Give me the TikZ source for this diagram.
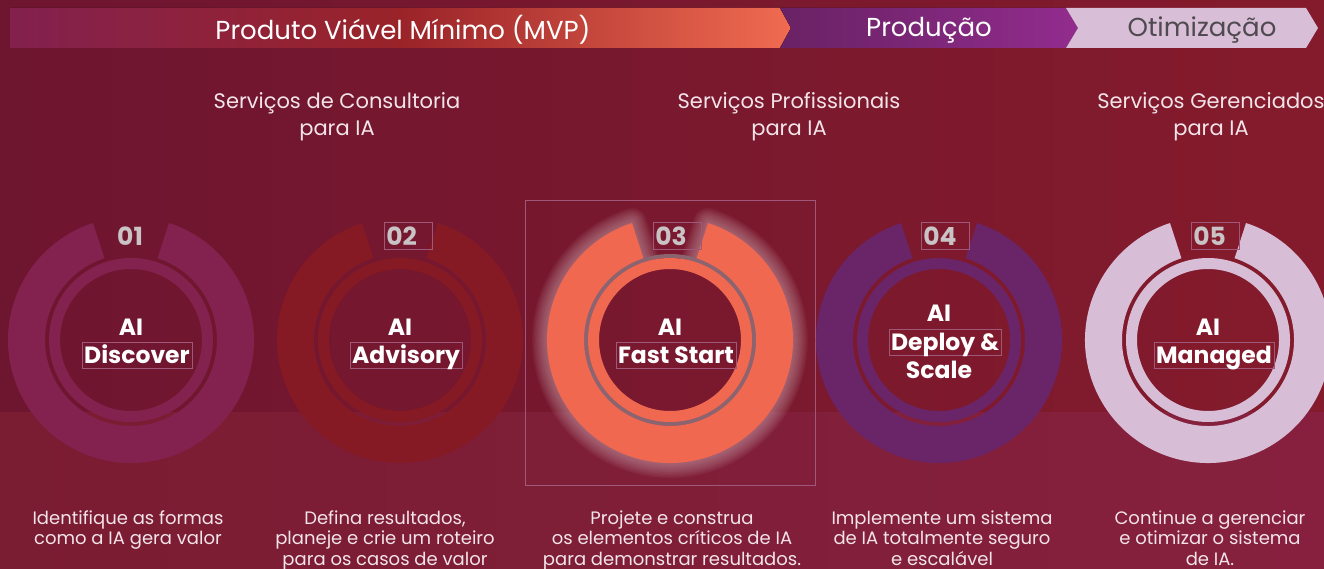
\documentclass[tikz,border=0pt]{standalone}
\usepackage{fontspec}
\setmainfont{Poppins}
\usetikzlibrary{positioning}

\definecolor{bgleft}{HTML}{6E1530}
\definecolor{bgright}{HTML}{841B2C}
\definecolor{lowleft}{HTML}{7A1C32}
\definecolor{lowright}{HTML}{86203E}
\definecolor{mvpleft}{HTML}{82214E}
\definecolor{mvpmid}{HTML}{9A2329}
\definecolor{mvpright}{HTML}{F06B50}
\definecolor{prodleft}{HTML}{692264}
\definecolor{prodright}{HTML}{922C8E}
\definecolor{optfill}{HTML}{D8BED6}
\definecolor{opttext}{HTML}{4F4A50}
\definecolor{ringone}{HTML}{84224F}
\definecolor{ringtwo}{HTML}{851A24}
\definecolor{ringthree}{HTML}{F06850}
\definecolor{ringfour}{HTML}{6A2468}
\definecolor{ringfive}{HTML}{D8BDD7}
\definecolor{numgray}{HTML}{C9C3C6}
\definecolor{paletext}{HTML}{F3E4EA}
\definecolor{glowcol}{HTML}{CBA4AC}
\definecolor{halo}{HTML}{8C6470}
\definecolor{boxline}{HTML}{A0587A}

\begin{document}
\begin{tikzpicture}[x=1pt, y=-1pt,
    phasetext/.style={font=\fontsize{26}{30}\selectfont, text=white},
    servicetext/.style={font=\fontsize{21}{27}\selectfont, text=paletext, align=center},
    numtext/.style={font=\bfseries\fontsize{25}{27}\selectfont, text=numgray, inner sep=2pt, anchor=west, text width=44pt, minimum height=27pt},
    ringtitle/.style={font=\bfseries\fontsize{23.5}{28}\selectfont, text=white, inner xsep=2pt, inner ysep=1.5pt, text height=20pt, text depth=3pt},
    captiontext/.style={font=\fontsize{18}{20.5}\selectfont, text=paletext, align=center, anchor=north},
    faintbox/.style={draw=boxline, line width=0.5pt},
    donut/.pic={
        \fill[#1] (288:123) arc[start angle=288, end angle=612, radius=123]
            -- (252:86) arc[start angle=252, end angle=-72, radius=86] -- cycle;
        \fill[#1, even odd rule] (0,0) circle[radius=82] (0,0) circle[radius=71];
    }]

    \useasboundingbox (0,0) rectangle (1324,569);
    \clip (0,0) rectangle (1324,569);
    \fill[left color=bgleft, right color=bgright] (0,0) rectangle (1324,569);
    \fill[left color=lowleft, right color=lowright] (0,412) rectangle (1324,569);

    \fill[left color=mvpleft, right color=mvpright, middle color=mvpmid] (10,8) -- (780,8) -- (791,28) -- (780,48) -- (10,48) -- cycle;
    \fill[left color=prodleft, right color=prodright] (780,8) -- (1066,8) -- (1078,28) -- (1066,48) -- (780,48) -- (791,28) -- cycle;
    \fill[optfill] (1066,8) -- (1306,8) -- (1318,28) -- (1306,48) -- (1066,48) -- (1078,28) -- cycle;
    \node[phasetext] (mvp) at (403,30) {Produto Viável Mínimo (MVP)};
    \node[phasetext] (prod) at (929,30) {Produção};
    \node[phasetext, text=opttext] (opt) at (1202,30) {Otimização};

    \node[servicetext] (cons) at (337,117) {Serviços de Consultoria\\para IA};
    \node[servicetext] (prof) at (789,117) {Serviços Profissionais\\para IA};
    \node[servicetext] (ger) at (1211,117) {Serviços Gerenciados\\para IA};

    \draw[faintbox] (525,200) rectangle (815,485);
    \begin{scope}[shift={(670,340)}]
        \foreach \w in {3,6,...,30}
            \draw[glowcol, line width=\w pt, opacity=0.07, line join=round] (288:123) arc[start angle=288, end angle=612, radius=123]
                -- (252:86) arc[start angle=252, end angle=-72, radius=86] -- cycle;
        \fill[halo, even odd rule] (0,0) circle[radius=86] (0,0) circle[radius=82];
    \end{scope}

    \pic at (131,340) {donut=ringone};
    \pic at (400,340) {donut=ringtwo};
    \pic at (670,340) {donut=ringthree};
    \pic at (939,340) {donut=ringfour};
    \pic at (1208,340) {donut=ringfive};

    \node[numtext] (n1) at (115,236) {01};
    \node[numtext, faintbox] (n2) at (384,236) {02};
    \node[numtext, faintbox] (n3) at (653,236) {03};
    \node[numtext, faintbox] (n4) at (921,236) {04};
    \node[numtext, faintbox] (n5) at (1191,236) {05};

    \node[ringtitle] (a1) at (131,327) {AI};
    \node[ringtitle, faintbox] (t1) at (137,355) {Discover\hspace{10pt}};
    \node[ringtitle] (a2) at (400,327) {AI};
    \node[ringtitle, faintbox] (t2) at (406,355) {Advisory\hspace{10pt}};
    \node[ringtitle] (a3) at (670,327) {AI};
    \node[ringtitle, faintbox] (t3) at (676,355) {Fast Start\hspace{10pt}};
    \node[ringtitle] (a4) at (939,313) {AI};
    \node[ringtitle, faintbox] (t4) at (945,342) {Deploy \&\hspace{10pt}};
    \node[ringtitle] (s4) at (939,370) {Scale};
    \node[ringtitle] (a5) at (1208,327) {AI};
    \node[ringtitle, faintbox] (t5) at (1214,355) {Managed\hspace{10pt}};

    \node[captiontext] (c1) at (128,507) {Identifique as formas\\como a IA gera valor};
    \node[captiontext] (c2) at (385,507) {Defina resultados,\\planeje e crie um roteiro\\para os casos de valor};
    \node[captiontext] (c3) at (672,507) {Projete e construa\\os elementos críticos de IA\\para demonstrar resultados.};
    \node[captiontext] (c4) at (942,507) {Implemente um sistema\\de IA totalmente seguro\\e escalável};
    \node[captiontext] (c5) at (1210,507) {Continue a gerenciar\\e otimizar o sistema\\de IA.};

\end{tikzpicture}
\end{document}
